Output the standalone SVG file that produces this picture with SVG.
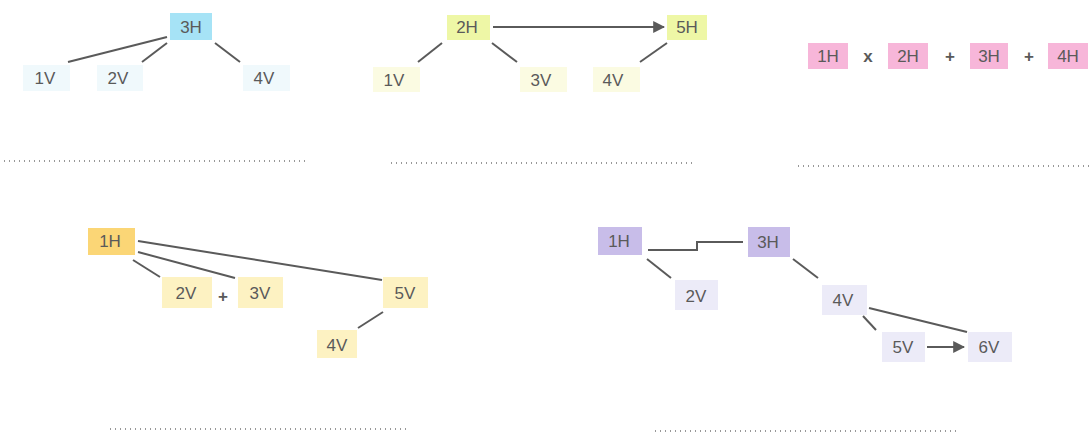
<svg xmlns="http://www.w3.org/2000/svg" width="1092" height="433" viewBox="0 0 1092 433">
<defs>
<style>
text{font-family:"Liberation Sans",Arial,sans-serif;font-size:17px;fill:#5a5a5a;text-anchor:middle;dominant-baseline:central}
.op{font-weight:bold;font-size:17px}
.ln{stroke:#5a5a5a;stroke-width:2;fill:none}
.dot{stroke:#777;stroke-width:1.5;stroke-dasharray:1 4;fill:none}
.bH{fill:#a6e3f6}.bV{fill:#f0f9fc}
.gH{fill:#eef7a6}.gV{fill:#fbfbe2}
.pH{fill:#f7b6d9}
.oH{fill:#fbd676}.oV{fill:#fdf2c2}
.vH{fill:#c8bde9}.vV{fill:#ecebf8}
</style>
<marker id="ah" viewBox="0 0 10 10" refX="9" refY="5" markerWidth="6" markerHeight="6" orient="auto"><path d="M0,0 L10,5 L0,10 z" fill="#5a5a5a"/></marker>
</defs>
<rect width="1092" height="433" fill="#fff"/>
<g id="connectors">
<line class="ln" x1="167" y1="37" x2="68" y2="62"/>
<line class="ln" x1="167" y1="43" x2="142" y2="62"/>
<line class="ln" x1="215" y1="43" x2="240" y2="62"/>
<line class="ln" x1="493" y1="27" x2="664" y2="27" marker-end="url(#ah)"/>
<line class="ln" x1="442" y1="43" x2="418" y2="62"/>
<line class="ln" x1="492" y1="43" x2="517" y2="62"/>
<line class="ln" x1="667" y1="43" x2="640" y2="62"/>
<line class="ln" x1="138" y1="241" x2="382" y2="280"/>
<line class="ln" x1="138" y1="252" x2="235" y2="278"/>
<line class="ln" x1="133" y1="260" x2="160" y2="277"/>
<line class="ln" x1="383" y1="312" x2="358" y2="328"/>
<polyline class="ln" points="648,250 697,250 697,242 743,242"/>
<line class="ln" x1="647" y1="259" x2="671" y2="278"/>
<line class="ln" x1="793" y1="259" x2="818" y2="278"/>
<line class="ln" x1="869" y1="308" x2="967" y2="332"/>
<line class="ln" x1="863" y1="316" x2="876" y2="330"/>
<line class="ln" x1="927" y1="347" x2="964" y2="347" marker-end="url(#ah)"/>
</g>
<g id="dots">
<line class="dot" x1="4" y1="161" x2="306" y2="161"/>
<line class="dot" x1="391" y1="163" x2="693" y2="163"/>
<line class="dot" x1="798" y1="166" x2="1092" y2="166"/>
<line class="dot" x1="110" y1="429" x2="410" y2="429"/>
<line class="dot" x1="655" y1="431" x2="958" y2="431"/>
</g>
<g id="d1-3H"><rect class="bH" x="170" y="13" width="42" height="27"/><text x="191" y="27">3H</text></g>
<g id="d1-1V"><rect class="bV" x="23" y="65" width="47" height="26"/><text x="45" y="78">1V</text></g>
<g id="d1-2V"><rect class="bV" x="97" y="65" width="46" height="26"/><text x="118" y="78">2V</text></g>
<g id="d1-4V"><rect class="bV" x="243" y="65" width="47" height="26"/><text x="264" y="78">4V</text></g>
<g id="d2-2H"><rect class="gH" x="447" y="15" width="43" height="25"/><text x="467" y="27">2H</text></g>
<g id="d2-5H"><rect class="gH" x="667" y="15" width="40" height="25"/><text x="687" y="27">5H</text></g>
<g id="d2-1V"><rect class="gV" x="373" y="67" width="47" height="25"/><text x="394" y="80">1V</text></g>
<g id="d2-3V"><rect class="gV" x="520" y="67" width="47" height="25"/><text x="541" y="80">3V</text></g>
<g id="d2-4V"><rect class="gV" x="593" y="67" width="47" height="25"/><text x="613" y="80">4V</text></g>
<g id="d3-1H"><rect class="pH" x="808" y="43" width="40" height="26"/><text x="828" y="56">1H</text></g>
<text class="op" x="868" y="56">x</text>
<g id="d3-2H"><rect class="pH" x="888" y="43" width="40" height="26"/><text x="908" y="56">2H</text></g>
<text class="op" x="950" y="56">+</text>
<g id="d3-3H"><rect class="pH" x="970" y="43" width="38" height="26"/><text x="989" y="56">3H</text></g>
<text class="op" x="1029" y="56">+</text>
<g id="d3-4H"><rect class="pH" x="1048" y="43" width="40" height="26"/><text x="1068" y="56">4H</text></g>
<g id="d4-1H"><rect class="oH" x="88" y="228" width="47" height="27"/><text x="110" y="241">1H</text></g>
<g id="d4-2V"><rect class="oV" x="162" y="277" width="50" height="31"/><text x="186" y="293">2V</text></g>
<text class="op" x="223" y="296">+</text>
<g id="d4-3V"><rect class="oV" x="238" y="277" width="45" height="31"/><text x="260" y="293">3V</text></g>
<g id="d4-5V"><rect class="oV" x="383" y="277" width="45" height="31"/><text x="405" y="293">5V</text></g>
<g id="d4-4V"><rect class="oV" x="317" y="330" width="40" height="28"/><text x="337" y="345">4V</text></g>
<g id="d5-1H"><rect class="vH" x="598" y="227" width="44" height="28"/><text x="619" y="241">1H</text></g>
<g id="d5-3H"><rect class="vH" x="748" y="227" width="42" height="30"/><text x="768" y="242">3H</text></g>
<g id="d5-2V"><rect class="vV" x="675" y="280" width="43" height="30"/><text x="696" y="296">2V</text></g>
<g id="d5-4V"><rect class="vV" x="822" y="285" width="45" height="30"/><text x="843" y="300">4V</text></g>
<g id="d5-5V"><rect class="vV" x="882" y="332" width="43" height="30"/><text x="903" y="347">5V</text></g>
<g id="d5-6V"><rect class="vV" x="968" y="332" width="44" height="30"/><text x="989" y="347">6V</text></g>
</svg>
